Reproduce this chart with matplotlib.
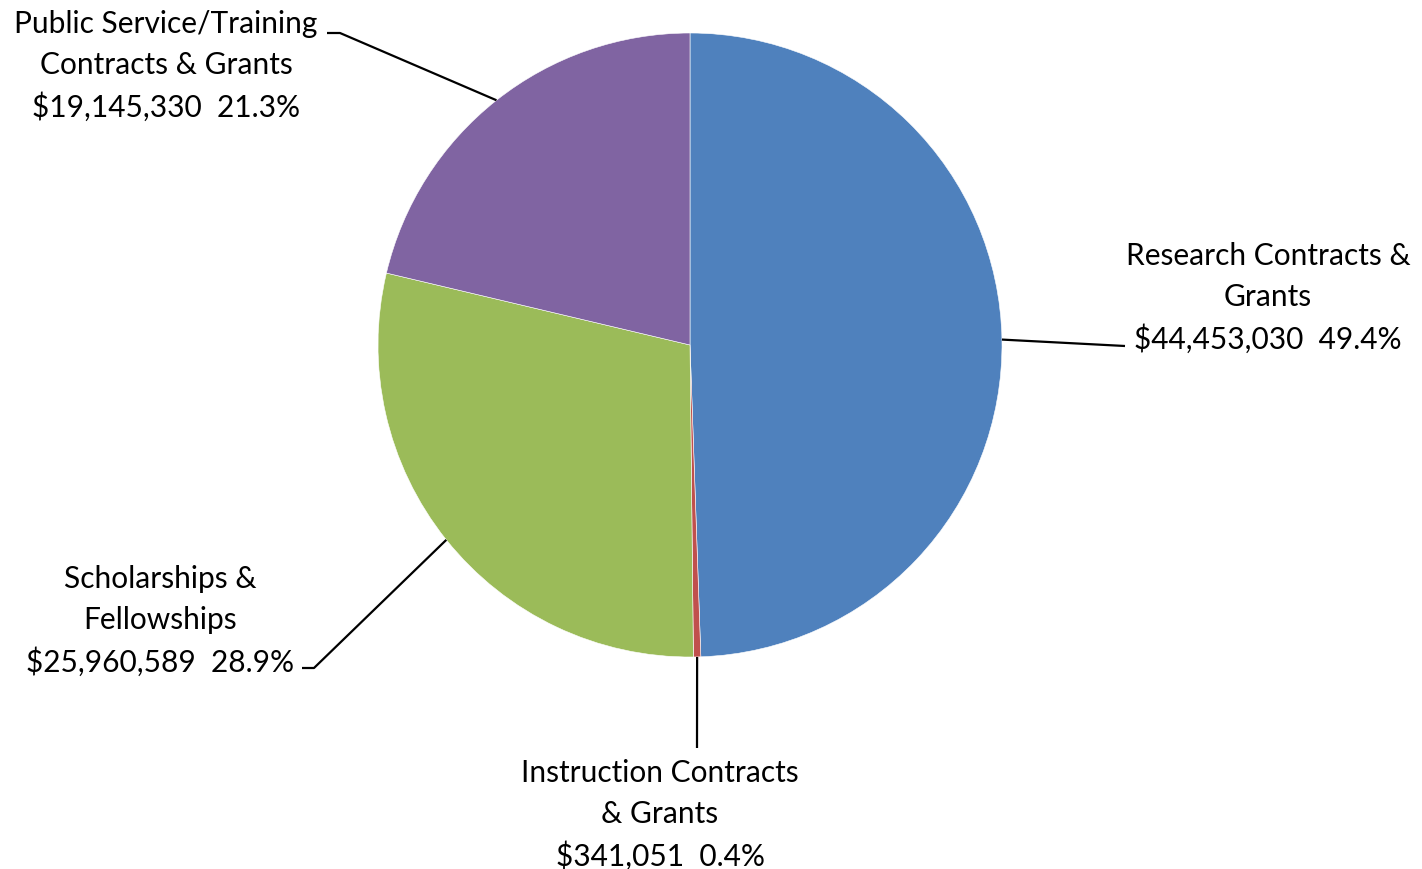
import numpy as np
import matplotlib.pyplot as plt

# Contracts & grants by category
categories = ["Research Contracts &\nGrants",
              "Instruction Contracts\n& Grants",
              "Scholarships &\nFellowships",
              "Public Service/Training\nContracts & Grants"]
amounts = [44453030, 341051, 25960589, 19145330]
colors = ["#4F81BD", "#C0504D", "#9BBB59", "#8064A2"]

W, H = 1422, 869
fig = plt.figure(figsize=(W / 100, H / 100), dpi=100)
ax = fig.add_axes([0, 0, 1, 1])

cx, cy, r = 690, H - 345, 312
wedges, _ = ax.pie(amounts, colors=colors, startangle=90, counterclock=False,
                   center=(cx, cy), radius=r,
                   wedgeprops=dict(edgecolor="white", linewidth=0.4))
ax.set_xlim(0, W)
ax.set_ylim(0, H)
ax.set_aspect("equal")
ax.set_axis_off()

total = sum(amounts)
# label centre, elbow point, end of the leader line
label_pos = [(1268, H - 298), (660, H - 815), (160, H - 621), (166, H - 66)]
elbows = [(1125, H - 346), (697, H - 748), (314, H - 668), (340, H - 33)]
ends = [None, None, (302, H - 668), (327, H - 33)]

for w, cat, amt, lp, el, en in zip(wedges, categories, amounts, label_pos, elbows, ends):
    mid = np.deg2rad((w.theta1 + w.theta2) / 2)
    x0, y0 = cx + r * np.cos(mid), cy + r * np.sin(mid)
    xs, ys = [x0, el[0]], [y0, el[1]]
    if en is not None:
        xs.append(en[0])
        ys.append(en[1])
    ax.plot(xs, ys, color="black", lw=1.6, solid_capstyle="butt")
    txt = f"{cat}\n${amt:,}  {amt / total * 100:.1f}%"
    ax.text(lp[0], lp[1], txt, ha="center", va="center", multialignment="center",
            fontsize=21.5, family=["Lato", "DejaVu Sans"], linespacing=1.55)

fig.savefig("out.png", dpi=100)
